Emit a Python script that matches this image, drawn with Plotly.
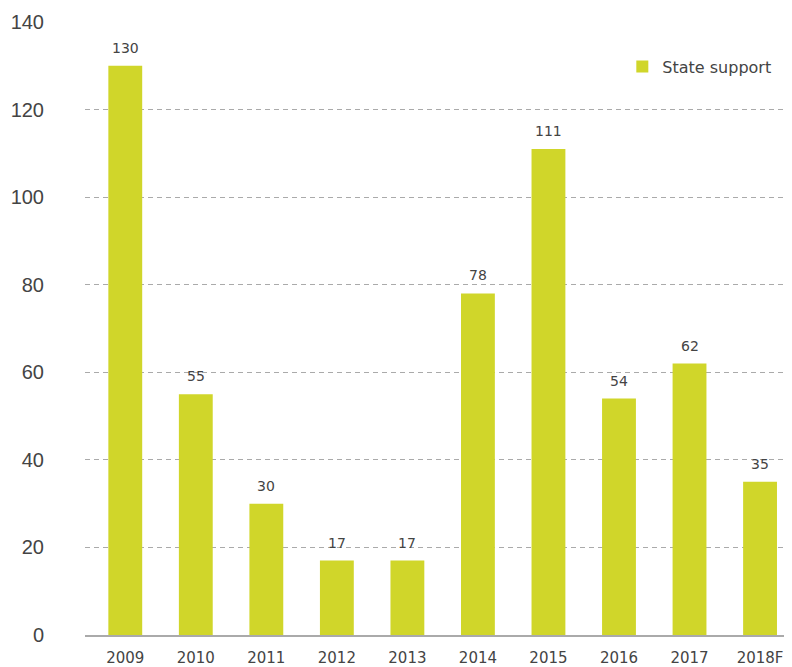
import plotly.graph_objects as go

years = ["2009", "2010", "2011", "2012", "2013", "2014", "2015", "2016", "2017", "2018F"]
state_support = [130, 55, 30, 17, 17, 78, 111, 54, 62, 35]
y_ticks = [0, 20, 40, 60, 80, 100, 120, 140]

bar_color = "#d0d62a"
text_color = "#444444"

xs = list(range(len(years)))

fig = go.Figure()
fig.add_trace(go.Bar(
    x=xs,
    y=state_support,
    name="State support",
    marker=dict(color=bar_color, line=dict(width=0)),
    width=0.48,
))

for xi, v in zip(xs, state_support):
    fig.add_annotation(
        x=xi, y=v, text=str(v), showarrow=False,
        xanchor="center", yanchor="bottom", yshift=8,
        font=dict(family="DejaVu Sans", size=14, color=text_color),
    )

fig.update_layout(
    width=792, height=667,
    margin=dict(l=77, r=8, t=14, b=40, autoexpand=False),
    paper_bgcolor="white",
    plot_bgcolor="white",
    showlegend=True,
    legend=dict(
        x=0.76, y=0.955, xanchor="left", yanchor="top",
        font=dict(family="DejaVu Sans", size=16, color=text_color),
        bgcolor="rgba(0,0,0,0)",
        itemwidth=30,
    ),
    xaxis=dict(
        tickmode="array",
        tickvals=xs,
        ticktext=years,
        range=[-0.571, 9.453],
        showgrid=False,
        showline=True,
        linecolor="#aaaaaa",
        linewidth=2,
        ticks="",
        automargin=False,
        tickfont=dict(family="DejaVu Sans", size=15, color=text_color),
        ticklabelstandoff=8,
    ),
    yaxis=dict(
        range=[0, 140],
        tickmode="array",
        tickvals=y_ticks,
        showgrid=True,
        gridcolor="#aaaaaa",
        griddash="5px,4px",
        gridwidth=1,
        zeroline=False,
        showline=False,
        ticks="",
        automargin=False,
        tickfont=dict(family="Liberation Sans", size=20, color=text_color),
        ticklabelstandoff=40,
    ),
)

fig.write_html("out.html")
